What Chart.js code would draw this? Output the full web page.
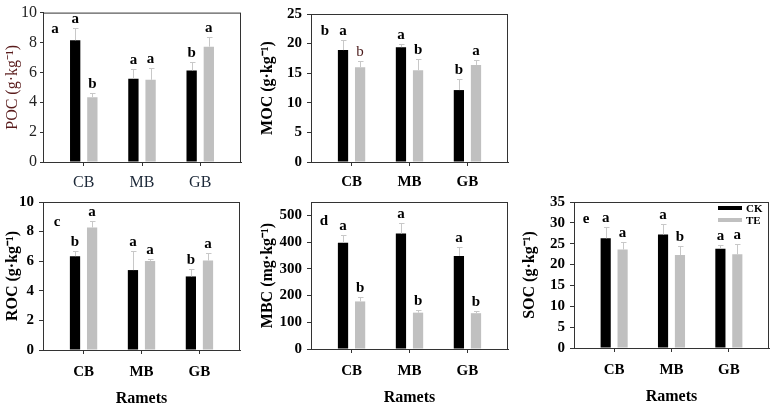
<!DOCTYPE html>
<html>
<head>
<meta charset="utf-8">
<script src="https://cdn.jsdelivr.net/npm/chart.js@4/dist/chart.umd.min.js"></script>
<style>
html, body { margin: 0; padding: 0; background: #fff; overflow: hidden; }
#wrap { position: relative; width: 771px; height: 404px; overflow: hidden; }
#wrap canvas { position: absolute; }
</style>
</head>
<body>
<div id="wrap"></div>
<script>
const ramets = ["CB", "MB", "GB"];

// POC
const pocCK = [8.15, 5.57, 6.13];
const pocCKsd = [0.82, 0.67, 0.58];
const pocTE = [4.34, 5.5, 7.72];
const pocTEsd = [0.28, 0.8, 0.62];
const pocCKlet = ["a", "a", "b"];
const pocTElet = ["b", "a", "a"];

// MOC
const mocCK = [18.9, 19.4, 12.15];
const mocCKsd = [1.7, 0.6, 1.85];
const mocTE = [16.0, 15.5, 16.4];
const mocTEsd = [1.0, 1.9, 0.8];
const mocCKlet = ["a", "a", "b"];
const mocTElet = ["b", "b", "a"];

// ROC
const rocCK = [6.34, 5.4, 4.97];
const rocCKsd = [0.36, 1.29, 0.51];
const rocTE = [8.28, 6.02, 6.04];
const rocTEsd = [0.47, 0.11, 0.52];
const rocCKlet = ["b", "a", "b"];
const rocTElet = ["a", "a", "a"];

// MBC
const mbcCK = [398, 432, 348];
const mbcCKsd = [30, 39, 32];
const mbcTE = [178, 136, 134];
const mbcTEsd = [17, 11, 8];
const mbcCKlet = ["a", "a", "a"];
const mbcTElet = ["b", "b", "b"];

// SOC
const socCK = [26.3, 27.2, 23.8];
const socCKsd = [2.6, 2.5, 0.8];
const socTE = [23.6, 22.3, 22.45];
const socTEsd = [1.7, 2.2, 2.5];
const socCKlet = ["a", "a", "a"];
const socTElet = ["a", "b", "a"];

const serif = '"Liberation Serif", "Times New Roman", serif';

// error bars, letters, frame, panel tag, legend
const marks = {
    id: "marks",
    afterDatasetsDraw(chart, args, o) {
        const ctx = chart.ctx, a = chart.chartArea, y = chart.scales.y;
        ctx.save();
        ctx.strokeStyle = "#333";
        ctx.lineWidth = 1;
        ctx.strokeRect(a.left + 0.5, a.top + 0.5, a.right - a.left - 1, a.bottom - a.top);
        chart.data.datasets.forEach((ds, di) => {
            const meta = chart.getDatasetMeta(di);
            meta.data.forEach((bar, i) => {
                const top = Math.round(y.getPixelForValue(ds.data[i].y + ds.sd[i])) + 0.5;
                const x = Math.round(bar.x) + 0.5;
                ctx.strokeStyle = "#c8c8c8";
                ctx.lineWidth = 1;
                ctx.beginPath();
                ctx.moveTo(x, bar.y);
                ctx.lineTo(x, top);
                ctx.moveTo(x - 2.5, top);
                ctx.lineTo(x + 3, top);
                ctx.stroke();
                const plain = (o.plain || []).some(p => p[0] === di && p[1] === i);
                ctx.fillStyle = plain ? "#4a1a1a" : "#000";
                ctx.font = (plain ? "" : "bold ") + "15px " + serif;
                ctx.textAlign = "center";
                ctx.textBaseline = "bottom";
                ctx.fillText(ds.letters[i], bar.x, top - 2);
            });
        });
        ctx.fillStyle = "#000";
        ctx.font = "bold 15px " + serif;
        ctx.textAlign = "center";
        ctx.textBaseline = "middle";
        ctx.fillText(o.tag, a.left + o.tagX, a.top + o.tagY);
        if (o.legend) {
            chart.data.datasets.forEach((ds, di) => {
                const ly = a.top + 6 + di * 12;
                ctx.strokeStyle = ds.backgroundColor;
                ctx.lineWidth = 4;
                ctx.beginPath();
                ctx.moveTo(a.right - 51, ly);
                ctx.lineTo(a.right - 27, ly);
                ctx.stroke();
                ctx.fillStyle = "#000";
                ctx.font = "bold 11px " + serif;
                ctx.textAlign = "left";
                ctx.fillText(ds.label, a.right - 23, ly + 1);
            });
        }
        ctx.restore();
    }
};

function panel(p) {
    const bottomRow = p.ramets;
    const xH = bottomRow ? 58 : 30;
    const canvas = document.createElement("canvas");
    const w = p.right + 2 - p.cx;
    const h = p.bottom - p.top + 7 + xH;
    canvas.width = w;
    canvas.height = h;
    canvas.style.left = p.cx + "px";
    canvas.style.top = (p.top - 7) + "px";
    document.getElementById("wrap").appendChild(canvas);
    const yW = p.left - p.cx;
    const weight = p.plainFont ? "normal" : "bold";
    new Chart(canvas, {
        type: "bar",
        data: {
            datasets: [
                {
                    label: "CK",
                    data: p.ck.map((v, i) => ({x: i + 1, y: v})),
                    sd: p.ckSd,
                    letters: p.ckLet,
                    backgroundColor: "#000",
                    categoryPercentage: 0.59,
                    barPercentage: 0.6,
                },
                {
                    label: "TE",
                    data: p.te.map((v, i) => ({x: i + 1, y: v})),
                    sd: p.teSd,
                    letters: p.teLet,
                    backgroundColor: "#c0c0c0",
                    categoryPercentage: 0.59,
                    barPercentage: 0.6,
                },
            ]
        },
        options: {
            responsive: false,
            animation: false,
            devicePixelRatio: 1,
            layout: {padding: {top: 7, right: 2, left: 0, bottom: 0}},
            plugins: {
                legend: {display: false},
                tooltip: {enabled: false},
                marks: {tag: p.tag, tagX: p.tagX, tagY: p.tagY, legend: p.legend, plain: p.plain}
            },
            scales: {
                x: {
                    type: "linear",
                    min: 0.3,
                    max: 3.7,
                    offset: false,
                    grid: {drawOnChartArea: false, offset: false, tickLength: 4, color: "#333"},
                    border: {color: "#333"},
                    afterBuildTicks: s => { s.ticks = ramets.map((_, i) => ({value: i + 1})); },
                    afterFit: s => { s.height = xH; },
                    ticks: {
                        callback: v => ramets[v - 1],
                        padding: bottomRow ? 9 : 7,
                        autoSkip: false,
                        maxRotation: 0,
                        color: p.xColor || "#000",
                        font: {family: serif, size: p.plainFont ? 16 : 15, weight: weight}
                    },
                    title: {
                        display: !!bottomRow,
                        text: "Ramets",
                        padding: 0,
                        color: "#000",
                        font: {family: serif, size: 16, weight: "bold"}
                    }
                },
                y: {
                    min: 0,
                    max: p.max,
                    grid: {drawOnChartArea: false, tickLength: p.plainFont ? 3 : 4, color: "#333"},
                    border: {color: "#333"},
                    afterFit: s => { s.width = yW; },
                    ticks: {
                        stepSize: p.step,
                        includeBounds: false,
                        autoSkip: false,
                        padding: p.plainFont ? 3 : 5,
                        color: p.plainFont ? "#222" : "#000",
                        font: {family: serif, size: p.plainFont ? 16 : 15, weight: weight}
                    },
                    title: {
                        display: true,
                        text: p.title,
                        padding: 0,
                        color: p.titleColor || "#000",
                        font: {family: serif, size: 16, weight: weight}
                    }
                }
            }
        },
        plugins: [marks]
    });
}

panel({cx: 3, left: 43, right: 241, top: 7, bottom: 162, max: 10, step: 2,
    title: "POC (g·kg⁻¹)", titleColor: "#5a1c1c", xColor: "#1c2838", plainFont: true,
    ck: pocCK, ckSd: pocCKsd, ckLet: pocCKlet, te: pocTE, teSd: pocTEsd, teLet: pocTElet,
    tag: "a", tagX: 12, tagY: 17});

panel({cx: 258, left: 311, right: 508, top: 7, bottom: 162, max: 25, step: 5,
    title: "MOC (g·kg⁻¹)", plain: [[1, 0]],
    ck: mocCK, ckSd: mocCKsd, ckLet: mocCKlet, te: mocTE, teSd: mocTEsd, teLet: mocTElet,
    tag: "b", tagX: 14, tagY: 17});

panel({cx: 3, left: 43, right: 240, top: 195, bottom: 350, max: 10, step: 2, ramets: true,
    title: "ROC (g·kg⁻¹)",
    ck: rocCK, ckSd: rocCKsd, ckLet: rocCKlet, te: rocTE, teSd: rocTEsd, teLet: rocTElet,
    tag: "c", tagX: 14, tagY: 20});

panel({cx: 258, left: 311, right: 508, top: 195, bottom: 349, max: 550, step: 100, ramets: true,
    title: "MBC (mg·kg⁻¹)",
    ck: mbcCK, ckSd: mbcCKsd, ckLet: mbcCKlet, te: mbcTE, teSd: mbcTEsd, teLet: mbcTElet,
    tag: "d", tagX: 13, tagY: 19});

panel({cx: 520, left: 574, right: 769, top: 195, bottom: 348, max: 35, step: 5, ramets: true,
    title: "SOC (g·kg⁻¹)", legend: true,
    ck: socCK, ckSd: socCKsd, ckLet: socCKlet, te: socTE, teSd: socTEsd, teLet: socTElet,
    tag: "e", tagX: 12, tagY: 17});
</script>
</body>
</html>
